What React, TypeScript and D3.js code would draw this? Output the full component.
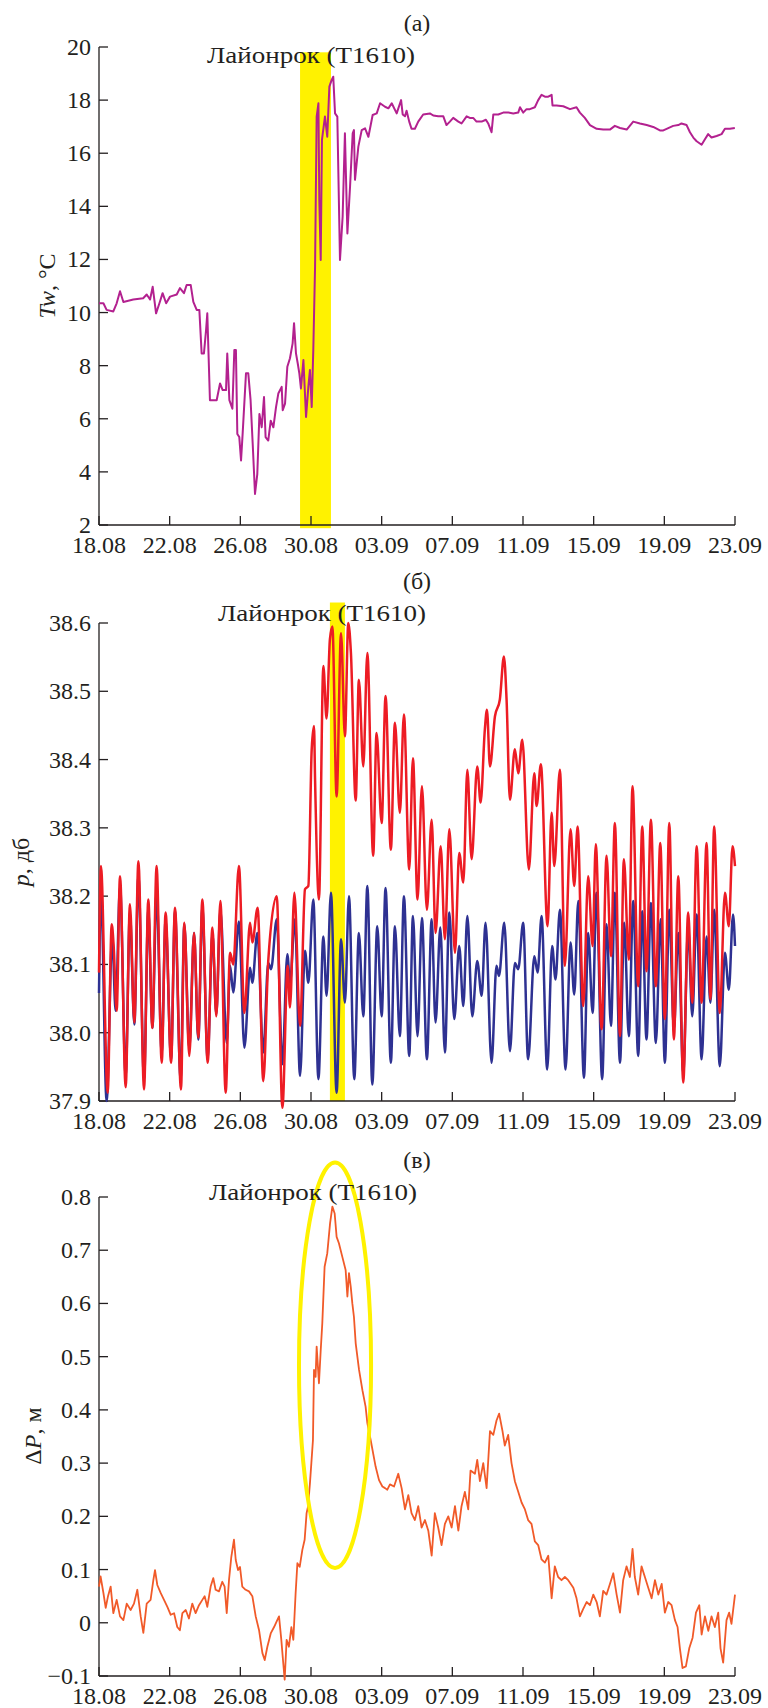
import React from "react";
import * as d3 from "d3";

// ---------- DATA (days since 18.08) ----------
const dateTicks = [0, 4, 8, 12, 16, 20, 24, 28, 32, 36];
const dateLabels = ["18.08", "22.08", "26.08", "30.08", "03.09", "07.09", "11.09", "15.09", "19.09", "23.09"];

const twTicks = [2, 4, 6, 8, 10, 12, 14, 16, 18, 20];
const pTicks = [37.9, 38.0, 38.1, 38.2, 38.3, 38.4, 38.5, 38.6];
const pTickLabels = ["37.9", "38.0", "38.1", "38.2", "38.3", "38.4", "38.5", "38.6"];
const dpTicks = [-0.1, 0, 0.1, 0.2, 0.3, 0.4, 0.5, 0.6, 0.7, 0.8];
const dpTickLabels = ["\u22120.1", "0", "0.1", "0.2", "0.3", "0.4", "0.5", "0.6", "0.7", "0.8"];

const typhoonLabel = "Лайонрок (T1610)";

// water temperature, °C
const twSeries: [number, number][] = [
  [0,10.35],[0.25,10.35],[0.43,10.1],[0.81,10.04],[1.0,10.35],[1.19,10.8],[1.38,10.4],[1.94,10.49],[2.5,10.54],[2.7,10.68],
  [2.89,10.49],[3.04,10.97],[3.23,9.97],[3.42,10.35],[3.6,10.73],[3.8,10.35],[4.02,10.6],[4.4,10.68],[4.58,10.92],[4.81,10.73],
  [4.96,11.04],[5.19,11.04],[5.34,10.4],[5.53,10.1],[5.68,10.1],[5.81,8.46],[5.94,8.46],[6.06,9.34],[6.13,9.97],[6.28,6.7],
  [6.66,6.7],[6.85,7.33],[7.0,7.08],[7.19,7.08],[7.26,8.46],[7.38,6.7],[7.55,6.38],[7.66,8.59],[7.75,8.59],[7.83,5.43],
  [7.94,5.31],[8.04,4.43],[8.13,5.43],[8.32,7.71],[8.45,7.71],[8.58,6.7],[8.7,5.06],[8.83,3.17],[8.96,3.92],[9.08,6.18],
  [9.21,5.68],[9.34,6.82],[9.43,5.31],[9.58,5.18],[9.72,5.93],[9.87,5.68],[10.02,6.44],[10.15,6.95],[10.34,7.2],[10.4,6.32],
  [10.53,6.57],[10.66,7.96],[10.81,8.28],[10.96,8.84],[11.04,9.6],[11.15,8.46],[11.25,8.08],[11.34,7.71],[11.43,7.14],[11.57,8.21],
  [11.72,6.07],[11.85,7.2],[11.94,7.84],[12.04,6.44],[12.13,8.59],[12.23,11.73],[12.32,17.38],[12.42,17.88],[12.47,14.24],[12.55,11.98],
  [12.62,16.5],[12.79,17.38],[12.92,16.62],[13.04,18.51],[13.17,18.76],[13.26,18.88],[13.36,17.5],[13.49,17.38],[13.64,11.98],[13.79,13.61],
  [13.92,16.75],[14.06,12.98],[14.21,14.74],[14.36,16.75],[14.43,16.87],[14.49,15.0],[14.68,16.25],[14.87,16.87],[15.06,16.94],[15.25,16.62],
  [15.49,17.44],[15.72,17.5],[15.91,17.88],[16.19,17.75],[16.38,17.69],[16.57,17.88],[16.85,17.5],[17.04,17.88],[17.1,18.0],[17.19,17.46],
  [17.32,17.39],[17.41,17.6],[17.56,17.19],[17.69,16.92],[17.88,16.92],[18.07,17.19],[18.35,17.46],[18.73,17.5],[18.92,17.42],[19.2,17.39],
  [19.49,17.39],[19.67,17.06],[19.86,17.19],[20.05,17.33],[20.34,17.19],[20.52,17.12],[20.81,17.39],[20.99,17.33],[21.18,17.33],[21.37,17.19],
  [21.66,17.19],[21.9,17.26],[22.03,17.12],[22.22,16.79],[22.32,17.46],[22.6,17.46],[22.88,17.53],[23.17,17.53],[23.45,17.5],[23.73,17.53],
  [23.83,17.73],[24.01,17.53],[24.2,17.66],[24.39,17.66],[24.67,17.73],[24.86,18.0],[25.05,18.2],[25.24,18.13],[25.43,18.13],[25.62,18.2],
  [25.67,17.8],[25.9,17.8],[26.28,17.77],[26.66,17.66],[27.03,17.73],[27.22,17.53],[27.5,17.33],[27.79,17.06],[28.17,16.92],[28.54,16.89],
  [28.92,16.89],[29.2,17.03],[29.49,16.95],[29.87,16.89],[30.24,17.19],[30.62,17.12],[31.0,17.06],[31.37,16.99],[31.75,16.86],[31.94,16.86],
  [32.13,16.92],[32.5,17.03],[32.79,17.06],[32.97,17.12],[33.26,17.06],[33.45,16.79],[33.64,16.59],[33.83,16.45],[34.11,16.32],[34.29,16.52],
  [34.48,16.72],[34.67,16.59],[34.96,16.65],[35.24,16.72],[35.43,16.92],[35.71,16.92],[35.99,16.95]
];

// pressure, dbar: red series (station affected by the surge)
const pRed: [number, number][] = [
  [0,38.088],[0.11,38.244],[0.49,37.912],[0.72,38.159],[0.83,38.127],[1.0,38.032],[1.19,38.229],[1.51,37.92],[1.75,38.188],[2.0,38.015],
  [2.23,38.251],[2.55,37.917],[2.79,38.195],[3.02,38.007],[3.26,38.244],[3.55,37.956],[3.77,38.176],[4.08,37.956],[4.3,38.183],[4.64,37.917],
  [4.83,38.161],[5.11,37.966],[5.38,38.146],[5.62,37.993],[5.85,38.195],[6.15,37.956],[6.42,38.154],[6.64,38.024],[6.87,38.193],[7.17,37.912],
  [7.42,38.117],[7.6,38.1],[7.92,38.244],[8.23,38.029],[8.55,38.161],[8.68,38.132],[8.98,38.183],[9.3,37.929],[9.58,38.105],[10.06,38.2],
  [10.38,37.89],[10.68,38.098],[10.81,38.037],[11.06,38.205],[11.38,38.01],[11.66,38.21],[11.85,38.215],[12.04,38.415],[12.17,38.449],[12.23,38.371],
  [12.45,38.195],[12.7,38.537],[12.88,38.46],[13.07,38.576],[13.21,38.595],[13.45,38.346],[13.7,38.585],[13.92,38.434],[14.11,38.6],[14.26,38.556],
  [14.53,38.34],[14.71,38.517],[14.96,38.39],[15.19,38.556],[15.52,38.259],[15.71,38.439],[16.0,38.307],[16.22,38.493],[16.52,38.268],[16.75,38.454],
  [17.03,38.322],[17.26,38.466],[17.56,38.239],[17.77,38.402],[18.03,38.195],[18.28,38.361],[18.56,38.18],[18.83,38.312],[19.05,38.146],[19.34,38.273],
  [19.58,38.137],[19.83,38.298],[20.15,38.117],[20.39,38.263],[20.62,38.22],[20.85,38.385],[21.09,38.254],[21.41,38.39],[21.6,38.337],[21.84,38.444],
  [21.96,38.473],[22.13,38.39],[22.41,38.463],[22.69,38.488],[22.92,38.551],[23.07,38.488],[23.26,38.341],[23.54,38.415],[23.73,38.38],[23.96,38.429],
  [24.33,38.239],[24.64,38.38],[24.77,38.332],[25.01,38.393],[25.39,38.156],[25.62,38.322],[25.77,38.244],[26.09,38.385],[26.37,38.098],[26.69,38.298],
  [26.9,38.215],[27.09,38.302],[27.41,38.039],[27.69,38.229],[27.94,38.127],[28.12,38.276],[28.45,38.005],[28.73,38.259],[28.98,38.112],[29.2,38.307],
  [29.49,37.995],[29.71,38.254],[29.99,38.107],[30.2,38.361],[30.52,38.068],[30.75,38.302],[30.99,38.09],[31.24,38.312],[31.52,38.068],[31.77,38.278],
  [32.03,38.02],[32.28,38.307],[32.54,37.99],[32.79,38.229],[33.07,37.927],[33.35,38.176],[33.58,38.044],[33.83,38.273],[34.11,38.044],[34.39,38.278],
  [34.61,38.049],[34.82,38.302],[35.14,38.029],[35.43,38.205],[35.65,38.156],[35.86,38.273],[36.0,38.244]
];

// pressure, dbar: blue series (reference tide)
const pBlue: [number, number][] = [
  [0,38.058],[0.11,38.21],[0.43,37.9],[0.75,38.141],[0.94,38.032],[1.19,38.215],[1.51,37.937],[1.75,38.176],[2.0,38.012],[2.23,38.229],
  [2.55,37.932],[2.79,38.18],[3.02,38.007],[3.26,38.205],[3.55,37.971],[3.77,38.166],[4.08,37.961],[4.3,38.178],[4.62,37.932],[4.83,38.159],
  [5.11,37.976],[5.38,38.146],[5.62,37.99],[5.85,38.183],[6.15,37.961],[6.42,38.146],[6.64,38.027],[6.87,38.18],[7.23,37.985],[7.42,38.098],
  [7.6,38.059],[7.92,38.163],[8.23,37.978],[8.55,38.095],[8.68,38.073],[8.96,38.146],[9.3,37.971],[9.58,38.102],[9.74,38.093],[10.06,38.166],
  [10.38,37.954],[10.66,38.115],[10.81,38.073],[11.09,38.166],[11.38,37.937],[11.66,38.12],[11.85,38.073],[12.13,38.195],[12.42,37.932],[12.7,38.141],
  [12.88,38.054],[13.13,38.205],[13.45,37.912],[13.7,38.137],[13.92,38.044],[14.15,38.2],[14.45,37.932],[14.71,38.146],[14.96,38.024],[15.19,38.215],
  [15.47,37.924],[15.75,38.156],[16.0,38.024],[16.22,38.212],[16.52,37.956],[16.75,38.156],[17.03,37.995],[17.26,38.2],[17.56,37.966],[17.77,38.171],
  [18.03,37.995],[18.28,38.168],[18.56,37.961],[18.83,38.166],[19.05,38.015],[19.32,38.154],[19.58,37.971],[19.83,38.176],[20.11,38.02],[20.39,38.127],
  [20.62,38.039],[20.85,38.171],[21.13,38.024],[21.41,38.105],[21.66,38.054],[21.88,38.161],[22.22,37.956],[22.5,38.098],[22.64,38.083],[22.94,38.161],
  [23.26,37.973],[23.54,38.102],[23.73,38.093],[24.01,38.161],[24.29,37.961],[24.64,38.112],[24.83,38.088],[25.05,38.171],[25.37,37.946],[25.65,38.127],
  [25.84,38.078],[26.09,38.18],[26.41,37.946],[26.69,38.132],[26.9,38.056],[27.13,38.193],[27.45,37.934],[27.69,38.146],[27.94,38.029],[28.16,38.205],
  [28.48,37.932],[28.73,38.159],[28.98,38.01],[29.2,38.205],[29.49,37.956],[29.73,38.161],[29.99,37.995],[30.24,38.193],[30.52,37.966],[30.75,38.178],
  [30.99,37.99],[31.24,38.19],[31.52,37.985],[31.79,38.166],[32.03,37.956],[32.28,38.18],[32.54,38.005],[32.79,38.146],[33.07,37.941],[33.35,38.154],
  [33.58,38.024],[33.83,38.173],[34.11,37.961],[34.39,38.141],[34.61,38.044],[34.82,38.18],[35.14,37.951],[35.43,38.117],[35.65,38.063],[35.89,38.173],
  [36.0,38.127]
];

// pressure difference, m
const dpSeries: [number, number][] = [
  [0,0.068],[0.09,0.087],[0.25,0.056],[0.38,0.028],[0.51,0.05],[0.66,0.068],[0.81,0.018],[1.0,0.043],[1.19,0.012],[1.38,0.005],
  [1.57,0.036],[1.79,0.024],[1.98,0.036],[2.17,0.062],[2.36,0.012],[2.51,-0.019],[2.7,0.036],[2.92,0.043],[3.08,0.081],[3.17,0.099],
  [3.3,0.071],[3.49,0.056],[3.68,0.043],[3.87,0.03],[4.06,0.015],[4.25,0.018],[4.43,-0.008],[4.58,-0.014],[4.72,0.018],[4.91,0.024],
  [5.09,0.008],[5.28,0.036],[5.47,0.018],[5.66,0.033],[5.85,0.043],[5.98,0.05],[6.13,0.03],[6.32,0.068],[6.47,0.084],[6.6,0.062],
  [6.79,0.059],[6.98,0.077],[7.11,0.068],[7.23,0.018],[7.36,0.081],[7.49,0.124],[7.64,0.156],[7.74,0.118],[7.87,0.099],[7.98,0.105],
  [8.11,0.068],[8.3,0.062],[8.49,0.059],[8.68,0.05],[8.87,0.012],[9.06,-0.014],[9.25,-0.057],[9.38,-0.07],[9.53,-0.045],[9.72,-0.02],
  [9.91,-0.008],[10.09,0.005],[10.19,0.012],[10.32,-0.032],[10.43,-0.076],[10.51,-0.107],[10.62,-0.032],[10.75,-0.045],[10.89,-0.008],[11.0,-0.032],
  [11.13,0.056],[11.23,0.112],[11.36,0.105],[11.51,0.137],[11.64,0.156],[11.75,0.206],[11.83,0.218],[11.94,0.262],[12.02,0.3],[12.11,0.343],
  [12.17,0.475],[12.26,0.462],[12.32,0.519],[12.45,0.45],[12.55,0.512],[12.64,0.563],[12.77,0.669],[12.92,0.694],[13.08,0.751],[13.21,0.782],
  [13.34,0.769],[13.45,0.725],[13.58,0.713],[13.77,0.688],[13.96,0.663],[14.06,0.613],[14.15,0.657],[14.25,0.631],[14.34,0.6],[14.43,0.575],
  [14.53,0.525],[14.72,0.475],[14.91,0.437],[15.09,0.406],[15.19,0.375],[15.38,0.343],[15.66,0.293],[15.85,0.268],[16.04,0.256],[16.19,0.253],
  [16.32,0.25],[16.47,0.26],[16.7,0.256],[16.94,0.28],[17.13,0.253],[17.32,0.213],[17.51,0.24],[17.69,0.206],[17.88,0.193],[18.07,0.219],
  [18.26,0.179],[18.45,0.193],[18.64,0.173],[18.83,0.126],[19.01,0.206],[19.2,0.179],[19.39,0.146],[19.58,0.186],[19.77,0.2],[19.96,0.179],
  [20.15,0.219],[20.34,0.173],[20.52,0.219],[20.71,0.246],[20.9,0.213],[21.03,0.286],[21.28,0.28],[21.41,0.306],[21.56,0.266],[21.75,0.3],
  [21.94,0.253],[22.13,0.36],[22.32,0.353],[22.5,0.38],[22.65,0.393],[22.84,0.36],[22.97,0.333],[23.16,0.353],[23.35,0.3],[23.54,0.266],
  [23.73,0.246],[23.92,0.226],[24.11,0.213],[24.29,0.193],[24.48,0.186],[24.67,0.153],[24.86,0.146],[25.05,0.119],[25.24,0.113],[25.43,0.126],
  [25.62,0.046],[25.8,0.106],[25.99,0.086],[26.18,0.08],[26.37,0.086],[26.56,0.08],[26.85,0.066],[27.03,0.046],[27.22,0.012],[27.41,0.026],
  [27.6,0.039],[27.79,0.033],[27.98,0.053],[28.17,0.039],[28.35,0.012],[28.54,0.06],[28.73,0.053],[28.92,0.073],[29.11,0.093],[29.3,0.053],
  [29.49,0.019],[29.67,0.08],[29.86,0.106],[30.05,0.086],[30.2,0.139],[30.33,0.086],[30.52,0.053],[30.71,0.106],[30.9,0.086],[31.09,0.066],
  [31.28,0.046],[31.47,0.08],[31.66,0.053],[31.85,0.073],[32.03,0.019],[32.22,0.039],[32.41,0.033],[32.6,0.005],[32.75,-0.008],[32.88,-0.048],
  [33.03,-0.085],[33.22,-0.082],[33.41,-0.048],[33.6,-0.028],[33.79,0.019],[33.98,0.033],[34.11,-0.022],[34.3,0.012],[34.49,-0.015],[34.67,0.012],
  [34.86,-0.008],[35.05,0.019],[35.18,-0.048],[35.33,-0.075],[35.52,0.005],[35.67,0.019],[35.8,-0.002],[36.0,0.053]
];

// typhoon highlight
const bandA = { x0: 11.38, x1: 13.13, y0: 1.88, y1: 19.8 };
const bandB = { x0: 13.07, x1: 13.92, y0: 37.9, y1: 38.63 };
const ellipseC = { cx: 13.36, cy: 0.484, rxDays: 2.04, ryVal: 0.381 };

// ---------- STYLE ----------
const FONT = "Liberation Serif, Times New Roman, Times, serif";
const INK = "#231f20";
const YELLOW = "#fff200";
const X0 = 99;
const X1 = 735;

function T(props: any) {
  const { children, style, ...rest } = props;
  return (
    <text fill={INK} {...rest} style={{ fontFamily: FONT, fontSize: 24, ...(style || {}) }}>
      {children}
    </text>
  );
}

function Axes({ x, y, yTicks, yLabels }: any) {
  const [yb, yt] = y.range();
  return (
    <g>
      <line x1={X0} x2={X0} y1={yb} y2={yt} stroke={INK} strokeWidth={1.3} />
      <line x1={X0} x2={X1} y1={yb} y2={yb} stroke={INK} strokeWidth={1.3} />
      {yTicks.map((t: number, i: number) => (
        <g key={"y" + i}>
          <line x1={X0} x2={X0 + 9} y1={y(t)} y2={y(t)} stroke={INK} strokeWidth={1.3} />
          <T x={91} y={y(t) + 8} textAnchor="end">
            {yLabels[i]}
          </T>
        </g>
      ))}
      {dateTicks.map((t, i) => (
        <g key={"x" + i}>
          <line x1={x(t)} x2={x(t)} y1={yb} y2={yb - 9} stroke={INK} strokeWidth={1.3} />
          <T x={x(t)} y={yb + 28} textAnchor="middle">
            {dateLabels[i]}
          </T>
        </g>
      ))}
    </g>
  );
}

export default function App() {
  const x = d3.scaleLinear().domain([0, 36]).range([X0, X1]);

  const yA = d3.scaleLinear().domain([2, 20]).range([525, 47]);
  const yB = d3.scaleLinear().domain([37.9, 38.6]).range([1101, 623]);
  const yC = d3.scaleLinear().domain([-0.1, 0.8]).range([1676, 1197]);

  const lineA = d3.line<[number, number]>().x((d) => x(d[0])).y((d) => yA(d[1]));
  const lineB = d3
    .line<[number, number]>()
    .x((d) => x(d[0]))
    .y((d) => yB(d[1]))
    .curve(d3.curveMonotoneX);
  const lineC = d3.line<[number, number]>().x((d) => x(d[0])).y((d) => yC(d[1]));

  const ex = x(ellipseC.cx);
  const ey = yC(ellipseC.cy);
  const erx = x(ellipseC.cx + ellipseC.rxDays) - ex;
  const ery = yC(ellipseC.cy) - yC(ellipseC.cy + ellipseC.ryVal);

  return (
    <svg
      width={768}
      height={1708}
      viewBox="0 0 768 1708"
      style={{ position: "absolute", left: 0, top: 0, background: "#fff" }}
    >
      <rect x={0} y={0} width={768} height={1708} fill="#fff" />

      {/* ---------- Panel (а) ---------- */}
      <rect
        x={x(bandA.x0)}
        width={x(bandA.x1) - x(bandA.x0)}
        y={yA(bandA.y1)}
        height={yA(bandA.y0) - yA(bandA.y1)}
        fill={YELLOW}
      />
      <Axes x={x} y={yA} yTicks={twTicks} yLabels={twTicks.map(String)} />
      <path d={lineA(twSeries) || ""} fill="none" stroke="#b3218f" strokeWidth={2} strokeLinejoin="round" />
      <T x={417} y={31} textAnchor="middle">(а)</T>
      <T x={207} y={63} textLength={208} lengthAdjust="spacingAndGlyphs">{typhoonLabel}</T>
      <T transform="translate(55,286) rotate(-90)" textAnchor="middle">
        <tspan fontStyle="italic">Tw</tspan>, °C
      </T>

      {/* ---------- Panel (б) ---------- */}
      <rect
        x={x(bandB.x0)}
        width={x(bandB.x1) - x(bandB.x0)}
        y={yB(bandB.y1)}
        height={yB(bandB.y0) - yB(bandB.y1)}
        fill={YELLOW}
      />
      <Axes x={x} y={yB} yTicks={pTicks} yLabels={pTickLabels} />
      <path d={lineB(pBlue) || ""} fill="none" stroke="#2e3192" strokeWidth={2.5} strokeLinejoin="round" />
      <path d={lineB(pRed) || ""} fill="none" stroke="#ed1c24" strokeWidth={2.5} strokeLinejoin="round" />
      <T x={417} y={589} textAnchor="middle">(б)</T>
      <T x={218} y={621} textLength={208} lengthAdjust="spacingAndGlyphs">{typhoonLabel}</T>
      <T transform="translate(29,862) rotate(-90)" textAnchor="middle">
        <tspan fontStyle="italic">p</tspan>, дб
      </T>

      {/* ---------- Panel (в) ---------- */}
      <Axes x={x} y={yC} yTicks={dpTicks} yLabels={dpTickLabels} />
      <path d={lineC(dpSeries) || ""} fill="none" stroke="#f15a29" strokeWidth={1.8} strokeLinejoin="round" />
      <ellipse cx={ex} cy={ey} rx={erx} ry={ery} fill="none" stroke={YELLOW} strokeWidth={4} />
      <T x={417} y={1168} textAnchor="middle">(в)</T>
      <T x={209} y={1200} textLength={208} lengthAdjust="spacingAndGlyphs">{typhoonLabel}</T>
      <T transform="translate(41,1436) rotate(-90)" textAnchor="middle">
        Δ<tspan fontStyle="italic">P</tspan>, м
      </T>
    </svg>
  );
}
